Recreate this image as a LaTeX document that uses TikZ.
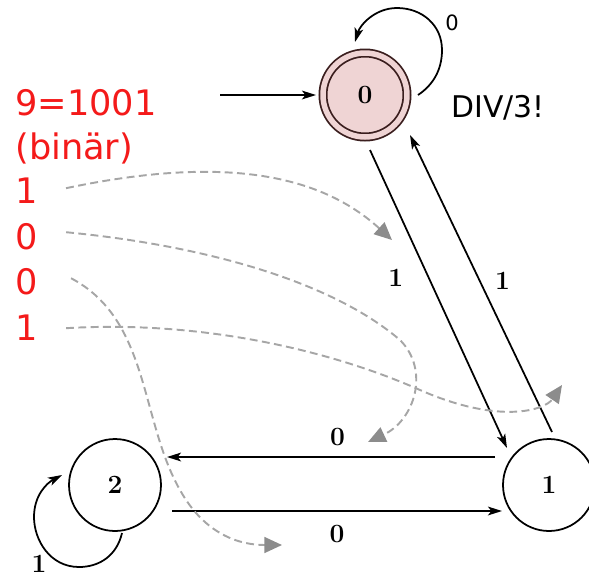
\documentclass[tikz,border=0pt]{standalone}
\usepackage{fontspec}
\usepackage{xcolor}
\usepackage{tikz}
\usetikzlibrary{arrows.meta,calc}
\newfontfamily\dejavu{DejaVu Sans}
\definecolor{bitred}{HTML}{F41A1A}
\definecolor{rosefill}{HTML}{EFD4D4}
\definecolor{roseline}{HTML}{3A1E1E}
\definecolor{trace}{HTML}{A6A6A6}
\definecolor{tracetip}{HTML}{8C8C8C}
\tikzset{
  state/.style={circle, draw=black, line width=1pt, minimum size=1.84cm, inner sep=0pt,
                font=\fontsize{15}{17}\selectfont\bfseries},
  startstate/.style={state, draw=roseline, fill=rosefill, double=rosefill, double distance=0.11cm,
                minimum size=1.68cm},
  bits/.style={anchor=base west, inner sep=0pt, text=bitred, font=\dejavu\fontsize{20}{24}\selectfont},
  sym/.style={font=\fontsize{15}{17}\selectfont\bfseries, inner sep=1pt},
  trans/.style={-{Stealth[length=8pt, width=5pt, inset=2pt]}, draw=black, line width=1pt},
  walk/.style={-{Triangle[length=10pt, width=9pt, color=tracetip]}, draw=trace, line width=1.1pt,
               dash pattern=on 4.5pt off 2.5pt},
}

\begin{document}
\begin{tikzpicture}[x=0.02cm, y=-0.02cm]
\useasboundingbox (0,0) rectangle (589,576);
\node[startstate] (s0) at (365,95) {0};
\node[state] (s1) at (549,485) {1};
\node[state] (s2) at (115,485) {2};
\node[font=\dejavu\fontsize{17}{20}\selectfont, anchor=west, inner sep=0pt] (div) at (451,108) {DIV/3!};
\node[bits] (num) at (15,115) {9=1001};
\node[bits] (bin) at (15,159) {(binär)};
\node[bits] (d1) at (15,203) {1};
\node[bits] (d2) at (15,249) {0};
\node[bits] (d3) at (15,294) {0};
\node[bits] (d4) at (15,340) {1};
\coordinate (entry) at (220,95);
\draw[trans] (entry) -- ($(s0)+(-49,0)$);
\draw[trans] ($(s0)+(53,0)$) .. controls ($(s0)+(68,-10)$) and ($(s0)+(77,-25)$) .. ($(s0)+(77,-45)$)
  .. controls ($(s0)+(77,-70)$) and ($(s0)+(57,-87)$) .. ($(s0)+(32,-87)$)
  .. controls ($(s0)+(10,-87)$) and ($(s0)+(-5,-70)$) .. ($(s0)+(-10,-53)$);
\node[font=\dejavu\fontsize{12}{14}\selectfont, inner sep=0pt] (l00) at ($(s0)+(87,-72)$) {0};
\draw[trans] ($(s0)+(5,55)$) -- node[sym, pos=0.43, left=0.46cm] (l01) {1} ($(s1)+(-42,-37)$);
\draw[trans] ($(s1)+(3,-53)$) -- node[sym, pos=0.51, right=0.26cm] (l10) {1} ($(s0)+(45,40)$);
\draw[trans] ($(s1)+(-54,-28)$) -- node[sym, pos=0.48, above=0.18cm] (l12) {0} ($(s2)+(52,-28)$);
\draw[trans] ($(s2)+(57,26)$) -- node[sym, pos=0.5, below=0.24cm] (l21) {0} ($(s1)+(-47,26)$);
\draw[trans] ($(s2)+(7,48)$) .. controls ($(s2)+(2,70)$) and ($(s2)+(-15,82)$) .. ($(s2)+(-36,82)$)
  .. controls ($(s2)+(-65,82)$) and ($(s2)+(-81,55)$) .. ($(s2)+(-81,32)$)
  .. controls ($(s2)+(-81,10)$) and ($(s2)+(-68,-2)$) .. ($(s2)+(-53,-10)$);
\node[sym] (l22) at ($(s2)+(-76,79)$) {1};
\draw[walk] ($(d1.east)+(28,-2)$) .. controls (200,160) and (310,165) .. (392,240);
\draw[walk] ($(d2.east)+(28,-4)$) .. controls (200,245) and (330,280) .. (400,340)
  .. controls (430,370) and (415,420) .. (368,442);
\draw[walk] ($(d3.east)+(33,-3)$) .. controls (150,320) and (140,420) .. (180,490)
  .. controls (205,535) and (240,545) .. (282,545);
\draw[walk] ($(d4.east)+(28,1)$) .. controls (200,320) and (330,350) .. (420,390)
  .. controls (500,425) and (545,410) .. (562,385);
\end{tikzpicture}
\end{document}
